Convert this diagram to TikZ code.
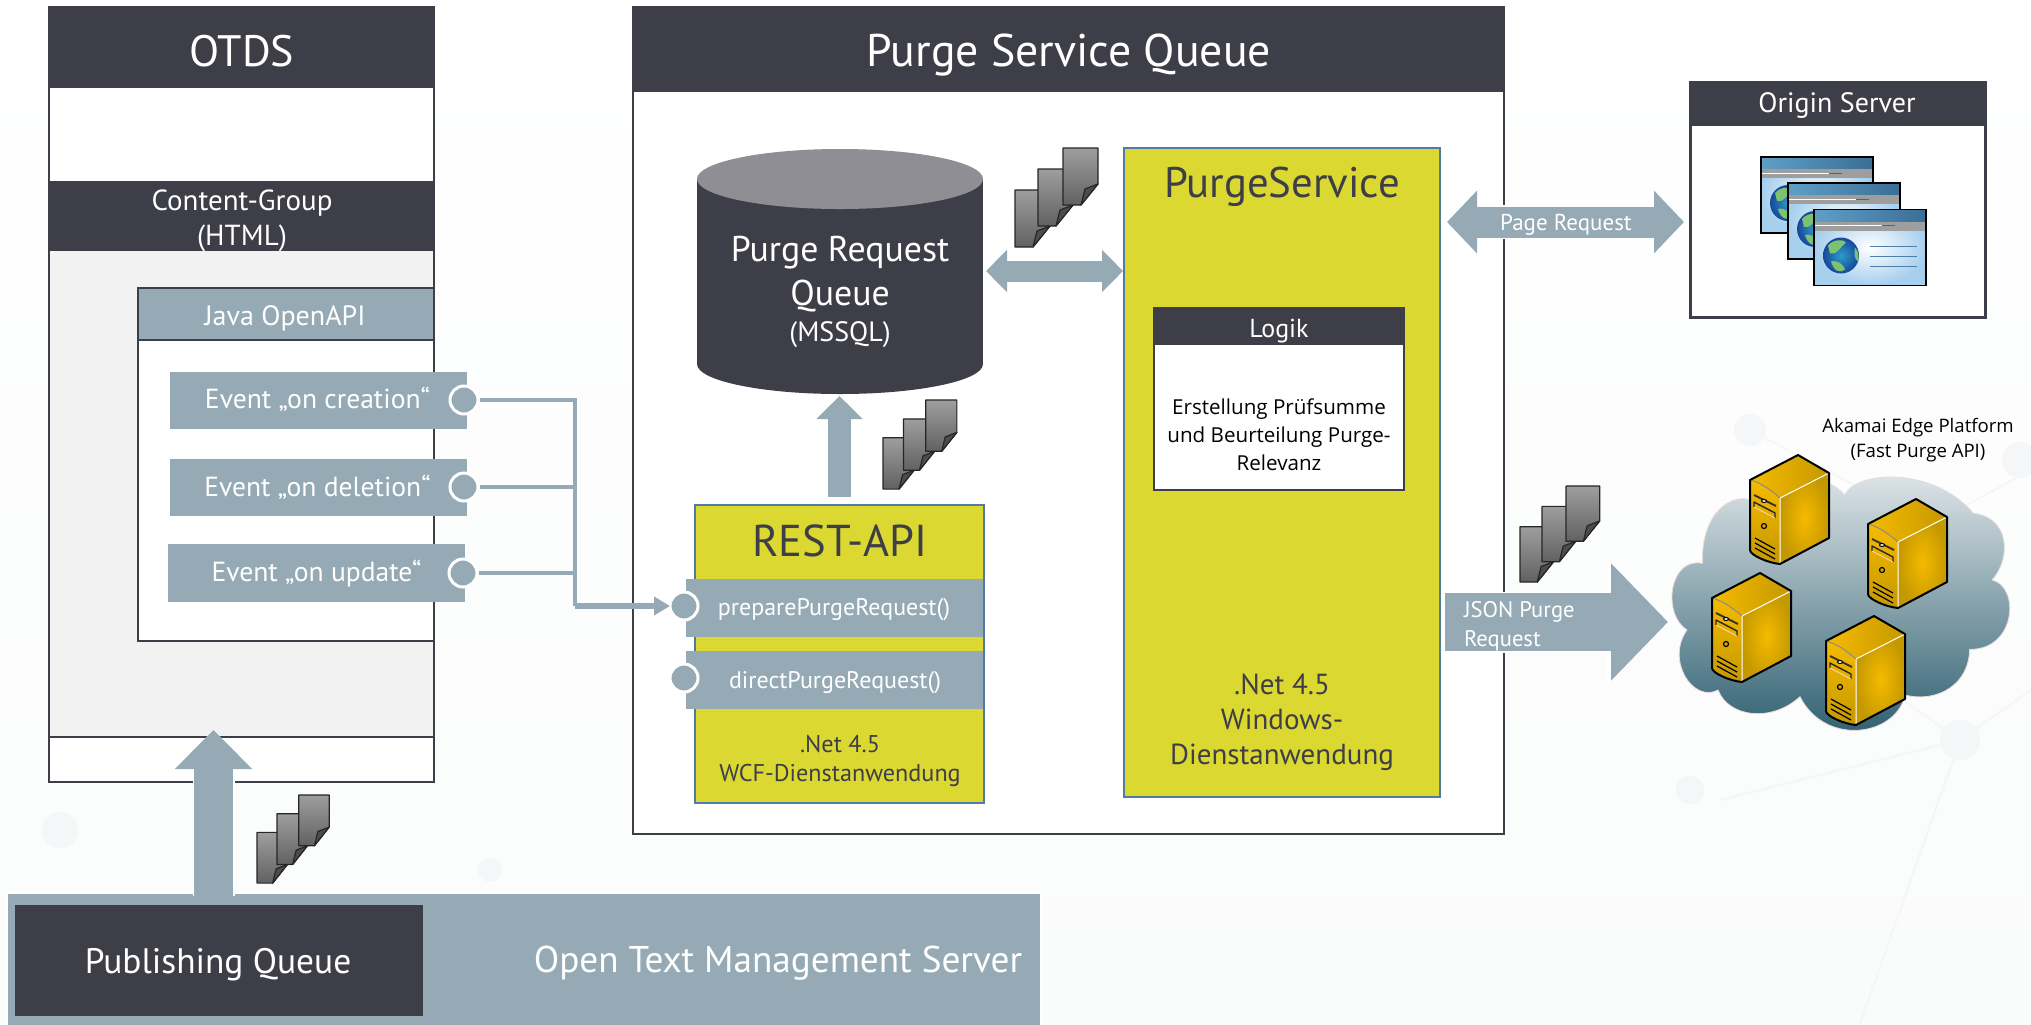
\documentclass[tikz,border=0pt]{standalone}
\usepackage{fontspec}
\setmainfont{PT Sans}
\newfontfamily\bodyfont{Open Sans}
\usetikzlibrary{arrows.meta}
\definecolor{darkbar}{HTML}{3E3E48}
\definecolor{steel}{HTML}{95AAB4}
\definecolor{lemon}{HTML}{DCD832}
\definecolor{bordblue}{HTML}{4F7BA7}
\definecolor{panelgrey}{HTML}{F2F2F2}
\definecolor{pagebase}{HTML}{FAFBFB}
\definecolor{faintnet}{HTML}{F5F6F7}
\definecolor{dbtop}{HTML}{8E8E94}
\definecolor{golddk}{HTML}{C49800}
\definecolor{goldlt}{HTML}{F6BB00}
\definecolor{cloudtop}{HTML}{E2E8EA}
\definecolor{cloudmid}{HTML}{8FA6AE}
\definecolor{cloudbot}{HTML}{285A6D}
\definecolor{cloudline}{HTML}{EADADA}
\definecolor{winbody}{HTML}{A6CFEE}
\definecolor{winleft}{HTML}{5F9FC6}
\definecolor{winright}{HTML}{3A6E96}
\definecolor{winline}{HTML}{4C80AA}
\definecolor{globein}{HTML}{2E9CC6}
\definecolor{globeout}{HTML}{17479A}
\definecolor{globeland}{HTML}{7CC270}
\tikzset{
  panel/.style={draw=darkbar,line width=1.25pt,fill=white},
  darkhead/.style={fill=darkbar},
  steelbox/.style={fill=steel},
  lemonbox/.style={fill=lemon,draw=bordblue,line width=1pt},
  port/.style={circle,fill=steel,draw=white,line width=1.5pt,minimum size=14pt,inner sep=0pt,outer sep=0pt},
  conn/.style={draw=steel,line width=2pt},
  connmain/.style={draw=steel,line width=3pt},
  pageedge/.style={draw=black!85,line width=0.6pt,line join=round},
  srvline/.style={draw=black,line width=1pt,line join=round,line cap=round},
  wlabel/.style={text=white,align=center},
  dlabel/.style={text=darkbar,align=center},
}
% box given by its corners, in reference pixels
\newcommand\bx[7]{%
  \pgfmathsetmacro\bxw{(#4-#2)*0.5}\pgfmathsetmacro\bxh{(#5-#3)*0.5}%
  \node[#6,minimum width=\bxw pt,minimum height=\bxh pt,inner sep=0pt,outer sep=0pt,anchor=north west] (#1) at (#2,#3) {#7};}
% block arrows (white halo below)
\newcommand\blockarrow[5]{%
  \draw[white,line width=#3*0.5pt+1.5pt,-{Triangle[length=#4*0.5pt+2pt,width=#5*0.5pt+3.5pt]}] (#1) -- (#2);
  \draw[steel,line width=#3*0.5pt,-{Triangle[length=#4*0.5pt,width=#5*0.5pt]}] (#1) -- (#2);}
\newcommand\blockarrowboth[5]{%
  \draw[white,line width=#3*0.5pt+1.5pt,{Triangle[length=#4*0.5pt+2pt,width=#5*0.5pt+3.5pt]}-{Triangle[length=#4*0.5pt+2pt,width=#5*0.5pt+3.5pt]}] (#1) -- (#2);
  \draw[steel,line width=#3*0.5pt,{Triangle[length=#4*0.5pt,width=#5*0.5pt]}-{Triangle[length=#4*0.5pt,width=#5*0.5pt]}] (#1) -- (#2);}
% one page, local coordinates of the group
\newcommand\onepage[2]{%
  \begin{scope}[shift={(#1,#2)}]
    \shade[top color=black!38,bottom color=black!62,pageedge] (0,0) -- (35,0) -- (35,36) -- (18,57) -- (0,57) -- cycle;
    \fill[black!70,pageedge] (35,36) -- (18,57) -- (22,41) -- cycle;
  \end{scope}}
% group of three pages: x, y, x-scale, y-scale
\newcommand\pagestack[4]{%
  \begin{scope}[shift={(#1,#2)},xscale=#3,yscale=#4]
    \onepage{0}{42}\onepage{23}{21}\onepage{48}{0}
  \end{scope}}
% browser window
\newcommand\webwin[2]{%
  \begin{scope}[shift={(#1,#2)}]
    \shade[inner color=white,outer color=winbody] (0,0) rectangle (112,76);
    \shade[left color=winleft,right color=winright] (0,0) rectangle (112,12);
    \fill[black!38] (0,12) rectangle (112,21);
    \draw[white,line width=0.5pt] (1,16) -- (68,16);
    \draw[green!65!black,line width=0.5pt] (68,16) -- (81,16);
    \shade[inner color=globein,outer color=globeout] (27,46) circle (18);
    \fill[globeland] (14,36) .. controls (20,29) and (30,30) .. (32,33) .. controls (26,38) and (22,46) .. (16,44) -- cycle;
    \fill[globeland] (17,52) .. controls (24,50) and (30,56) .. (31,60) .. controls (26,64) and (20,62) .. (17,52) -- cycle;
    \fill[globeland] (41,38) .. controls (45,42) and (45,48) .. (44,52) .. controls (40,50) and (40,42) .. (41,38) -- cycle;
    \draw[winline,line width=0.6pt] (56,37) -- (103,37) (56,47) -- (103,47) (56,57) -- (103,57);
    \draw[black,line width=0.6pt] (0,0) rectangle (112,76);
  \end{scope}}
% server tower, origin at the top vertex
\newcommand\serverbox[2]{%
  \begin{scope}[shift={(#1,#2)}]
    \shade[left color=goldlt,right color=golddk] (0,0) -- (31,18) -- (-18,43) -- (-48,25) -- cycle;
    \shade[inner color=goldlt,outer color=golddk] (31,18) -- (31,83) -- (-18,109) -- (-18,43) -- cycle;
    \shade[top color=goldlt,bottom color=golddk] (-48,25) -- (-18,43) -- (-18,109) .. controls (-30,108) and (-48,100) .. (-48,95) -- cycle;
    \draw[white,line width=0.5pt] (31,18) -- (-18,43) -- (-18,109);
    \draw[black!45,line width=0.5pt] (-48,25) .. controls (-36,28) and (-26,36) .. (-18,43);
    \draw[srvline] (-48,25) -- (0,0) -- (31,18) -- (31,83) -- (-18,109) .. controls (-30,108) and (-48,100) .. (-48,95) -- cycle;
    \draw[black!80,line width=1pt] (-44,40) -- (-22,51);
    \fill[white] (-34,46) ellipse (2.5 and 1.5);
    \draw[black,line width=0.5pt] (-34,46) ellipse (2.5 and 1.5);
    \draw[black!85,line width=0.7pt,line join=round] (-44,52) -- (-44,47) -- (-23,58) -- (-23,63);
    \draw[white!70!orange,line width=0.4pt] (-44,52) -- (-23,63);
    \draw[black,line width=0.6pt] (-34,71) circle (2.5);
    \draw[black,line width=0.6pt] (-43,83) -- (-23,94) (-43,88) -- (-23,99) (-43,93) -- (-23,104);
  \end{scope}}
\begin{document}
\begin{tikzpicture}[x=0.5pt,y=-0.5pt]
\useasboundingbox (0,0) rectangle (2031,1024);
% backdrop
\shade[top color=white,bottom color=pagebase] (0,0) rectangle (2031,1024);
\draw[faintnet,line width=1pt] (1750,430) -- (1930,525) (1930,525) -- (2031,470) (1700,560) -- (1960,740) (1960,740) -- (2031,690) (1960,740) -- (1860,1024) (1960,740) -- (1720,800);
\fill[faintnet] (1750,430) circle (16) (2020,460) circle (18) (1960,740) circle (20) (60,830) circle (18) (490,870) circle (12) (1690,790) circle (14);

% OTDS
\bx{otds}{49}{7}{434}{782}{panel}{}
\bx{otdshead}{49}{7}{434}{88}{darkhead}{}
\node[wlabel,font=\fontsize{22}{26}\selectfont] (otdst) at (242,51) {OTDS};
\bx{cgroup}{49}{250}{434}{737}{fill=panelgrey,draw=darkbar,line width=1pt}{}
\bx{cghead}{49}{181}{434}{250}{darkhead}{}
\node[wlabel,font=\fontsize{14.5}{17.5}\selectfont] (cgt) at (242,221) {Content-Group\\(HTML)};
\bx{javabox}{138}{288}{434}{641}{panel}{}
\bx{javahead}{138}{288}{434}{340}{steelbox,draw=darkbar,line width=1.25pt}{}
\node[wlabel,font=\fontsize{14}{16}\selectfont] (javat) at (285,318) {Java OpenAPI};
\bx{evcreate}{170}{372}{467}{429}{steelbox}{}
\bx{evdelete}{170}{459}{467}{516}{steelbox}{}
\bx{evupdate}{168}{544}{465}{602}{steelbox}{}
\node[wlabel,font=\fontsize{13.8}{16}\selectfont] (evt1) at (317.5,399.5) {Event „on creation“};
\node[wlabel,font=\fontsize{13.8}{16}\selectfont] (evt2) at (317.5,487) {Event „on deletion“};
\node[wlabel,font=\fontsize{13.8}{16}\selectfont] (evt3) at (316.5,574) {Event „on update“};

% Purge Service Queue
\bx{psq}{633}{7}{1504}{834}{panel}{}
\bx{psqhead}{633}{7}{1504}{92}{darkhead}{}
\node[wlabel,font=\fontsize{22.9}{26}\selectfont] (psqt) at (1069,55) {Purge Service Queue};

% database
\bx{mssql}{697}{149}{983}{394}{}{}
\fill[darkbar] (697,179) rectangle (983,364);
\fill[darkbar] (840,364) ellipse (143 and 30);
\fill[dbtop] (840,179) ellipse (143 and 30);
\node[wlabel,font=\fontsize{17.9}{22}\selectfont] (mssqlt) at (840,274) {Purge Request\\Queue};
\node[wlabel,font=\fontsize{14}{16}\selectfont] (mssqlu) at (840,335) {(MSSQL)};

% REST-API
\bx{rest}{695}{505}{984}{803}{lemonbox}{}
\node[dlabel,font=\fontsize{22.3}{26}\selectfont] (restt) at (840,541) {REST-API};
\bx{prep}{686}{579}{983}{637}{steelbox}{}
\bx{direct}{686}{651}{983}{709}{steelbox}{}
\node[wlabel,font=\fontsize{12}{15}\selectfont] (prept) at (834,610) {preparePurgeRequest()};
\node[wlabel,font=\fontsize{12}{15}\selectfont] (dirt) at (835,683) {directPurgeRequest()};
\node[dlabel,font=\fontsize{12.1}{14.5}\selectfont] (restn) at (840,761) {.Net 4.5\\WCF-Dienstanwendung};

% PurgeService
\bx{purge}{1124}{148}{1440}{797}{lemonbox}{}
\node[dlabel,font=\fontsize{21.4}{26}\selectfont] (purget) at (1282,187) {PurgeService};
\bx{logik}{1154}{308}{1404}{490}{fill=white,draw=darkbar,line width=1pt}{}
\bx{logikh}{1154}{308}{1404}{345}{darkhead}{}
\node[wlabel,font=\fontsize{13}{15}\selectfont] (logikht) at (1279,331) {Logik};
\node[text=black,align=center,font=\bodyfont\fontsize{10.3}{14.1}\selectfont] (logikt) at (1279,435) {Erstellung Prüfsumme\\und Beurteilung Purge-\\Relevanz};
\node[dlabel,font=\fontsize{14.5}{17.5}\selectfont] (purgen) at (1282,722) {.Net 4.5\\Windows-\\Dienstanwendung};

% Origin Server
\bx{origin}{1690}{82}{1985}{317}{draw=darkbar,line width=1.5pt,fill=white}{}
\bx{originh}{1690}{82}{1985}{126}{darkhead}{}
\node[wlabel,font=\fontsize{14}{17}\selectfont] (origint) at (1837,105) {Origin Server};
\webwin{1761}{157}\webwin{1788}{183}\webwin{1814}{209.5}

% Akamai cloud
\begin{scope}[shift={(1420,400)},x=0.19486pt,y=-0.16667pt]
  \path[top color=cloudtop,middle color=cloudmid,bottom color=cloudbot,draw=cloudline,line width=0.4pt]
   (725,490) .. controls (720,340) and (800,270) .. (860,305)
   .. controls (920,200) and (1040,220) .. (1090,285)
   .. controls (1120,210) and (1320,200) .. (1420,340)
   .. controls (1510,350) and (1520,470) .. (1468,540)
   .. controls (1540,560) and (1530,750) .. (1410,748)
   .. controls (1410,850) and (1330,910) .. (1245,885)
   .. controls (1220,1010) and (1040,1040) .. (975,890)
   .. controls (900,970) and (790,950) .. (765,870)
   .. controls (700,910) and (630,780) .. (685,690)
   .. controls (620,640) and (640,470) .. (725,490) -- cycle;
\end{scope}
\node[text=black,align=center,font=\bodyfont\fontsize{9.3}{12.7}\selectfont] (akamai) at (1918,440) {Akamai Edge Platform\\(Fast Purge API)};
\serverbox{1798}{455}
\serverbox{1916}{499}
\serverbox{1760}{573}
\serverbox{1874}{616}

% page stacks
\pagestack{883}{400}{0.89}{0.90}
\pagestack{1015}{148}{1}{1}
\pagestack{1520}{486}{0.96}{0.97}
\pagestack{257}{795}{0.87}{0.89}

% Open Text bar
\bx{otbar}{7}{893}{1041}{1026}{steelbox,draw=white,line width=1pt}{}
\bx{pubq}{15}{905}{423}{1016}{darkhead}{}
\node[wlabel,font=\fontsize{17.7}{20}\selectfont] (pubqt) at (218,965) {Publishing Queue};
\node[wlabel,font=\fontsize{18.6}{23}\selectfont] (ottext) at (778,963) {Open Text Management Server};

% ports
\node[port] (ev1) at (464,400) {};
\node[port] (ev2) at (464,487) {};
\node[port] (ev3) at (463,573) {};
\node[port] (pp) at (684,606) {};
\node[port] (dp) at (684,678) {};

% event connectors
\coordinate (jn) at (575,606);
\draw[conn,shorten <=1pt] (ev1) -- (ev1 -| jn) -- (jn);
\draw[conn,shorten <=1pt] (ev2) -- (ev2 -| jn);
\draw[conn,shorten <=1pt] (ev3) -- (ev3 -| jn);
\draw[connmain,-{Triangle[length=8pt,width=9pt]}] (jn) -- (pp);

% block arrows
\coordinate (pubA) at (213.5,896);
\coordinate (pubB) at (213.5,730);
\blockarrow{pubA}{pubB}{39}{39}{75}
\coordinate (restA) at (839.5,497);
\coordinate (restB) at (839.5,396);
\blockarrow{restA}{restB}{23}{23}{45}
\coordinate (dbR) at (986,271);
\coordinate (psL) at (1123,271);
\blockarrowboth{dbR}{psL}{21}{21}{41}
\coordinate (prA) at (1447,222);
\coordinate (prB) at (1684,222);
\blockarrowboth{prA}{prB}{31}{30}{61}
\node[wlabel,font=\fontsize{11.5}{13}\selectfont] (prt) at (1566,225) {Page Request};
\coordinate (jsA) at (1444.5,622);
\coordinate (jsB) at (1668,622);
\blockarrow{jsA}{jsB}{58}{57}{114}
\node[text=white,align=left,anchor=west,font=\fontsize{11.3}{14.5}\selectfont] (jst) at (1457,626) {JSON Purge\\Request};
\end{tikzpicture}
\end{document}
